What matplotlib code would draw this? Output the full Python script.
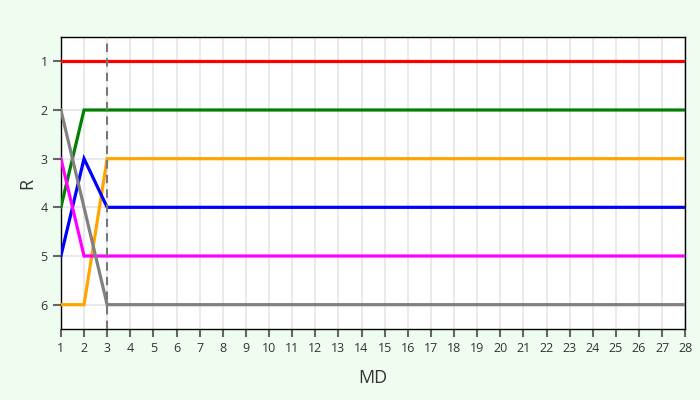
import matplotlib.pyplot as plt

plt.rcParams["font.family"] = ["Open Sans", "DejaVu Sans"]

md = list(range(1, 29))
tail = len(md) - 3

red = [1, 1, 1] + [1] * tail
green = [4, 2, 2] + [2] * tail
orange = [6, 6, 3] + [3] * tail
blue = [5, 3, 4] + [4] * tail
magenta = [3, 5, 5] + [5] * tail
gray = [2, 4, 6] + [6] * tail

series = [
    (red, "red"),
    (green, "green"),
    (orange, "orange"),
    (blue, "blue"),
    (magenta, "magenta"),
    (gray, "gray"),
]
marker_md = 3

fig = plt.figure(figsize=(7, 4), dpi=100, facecolor="#eefdef")
ax = fig.add_axes([0.087, 0.1775, 0.892, 0.73])
ax.set_facecolor("white")

for vals, c in series:
    ax.plot(md, vals, color=c, lw=2.3, solid_joinstyle="miter", zorder=3)

ax.axvline(marker_md, color="#777777", lw=1.5, ls=(0, (4, 3)), zorder=4)

ax.set_xlim(1, 28)
ax.set_ylim(6.5, 0.5)
ax.set_xticks(md)
ax.set_yticks(range(1, 7))
ax.grid(True, color="#e6e6e6", lw=1.2, zorder=0)
ax.tick_params(colors="#666666", labelcolor="#333333", labelsize=9, length=6, width=1.5)
for sp in ax.spines.values():
    sp.set_color("black")
    sp.set_linewidth(1)

ax.set_xlabel("MD", fontsize=13, color="#333333", labelpad=10)
ax.set_ylabel("R", fontsize=13, color="#333333", labelpad=3)

fig.savefig("out.png", dpi=100, facecolor=fig.get_facecolor())
